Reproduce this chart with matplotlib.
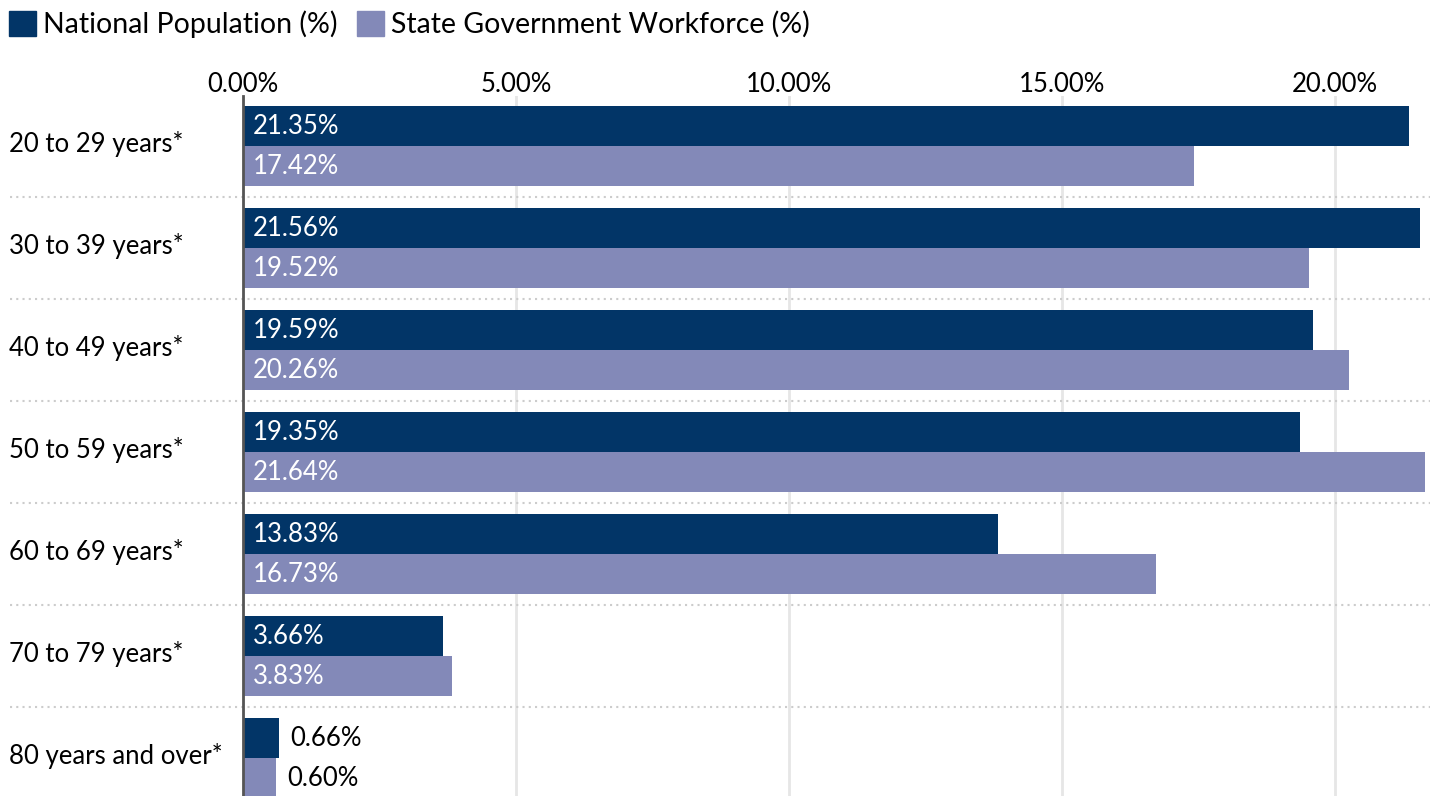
import matplotlib
matplotlib.use('Agg')
from matplotlib import pyplot as plt
from matplotlib.patches import Patch
import matplotlib.transforms as mtrans

plt.rcParams['font.family'] = ['Lato', 'DejaVu Sans']

categories = ['20 to 29 years*', '30 to 39 years*', '40 to 49 years*', '50 to 59 years*',
              '60 to 69 years*', '70 to 79 years*', '80 years and over*']
national = [21.35, 21.56, 19.59, 19.35, 13.83, 3.66, 0.66]
state = [17.42, 19.52, 20.26, 21.64, 16.73, 3.83, 0.60]
series_names = ['National Population (%)', 'State Government Workforce (%)']
ticks = [0, 5, 10, 15, 20]

navy = '#023567'
lavender = '#8389b8'

W, H = 1430, 796
fig = plt.figure(figsize=(W / 100, H / 100), dpi=100)
ax = fig.add_axes([243 / W, 0, (W - 243) / W, (796 - 96) / H])

bh = 40 / 102
pos = range(len(categories))
nat_y = [i - bh / 2 for i in pos]
st_y = [i + bh / 2 for i in pos]
ax.barh(nat_y, national, height=bh, color=navy, zorder=2)
ax.barh(st_y, state, height=bh, color=lavender, zorder=2)

ax.set_xlim(0, (W - 243) / 54.6)
ax.set_ylim(6 + 38 / 102, -50 / 102)

# value labels: inside for big bars, outside for tiny ones
for y, v in list(zip(nat_y, national)) + list(zip(st_y, state)):
    if v > 2:
        ax.annotate(f'{v:.2f}%', (0, y), xytext=(7, 0), textcoords='offset points',
                    va='center', ha='left', color='white', fontsize=18.5)
    else:
        ax.annotate(f'{v:.2f}%', (v, y), xytext=(8, 0), textcoords='offset points',
                    va='center', ha='left', color='black', fontsize=18.5)

# category labels and dotted separators across the whole width
trans = mtrans.blended_transform_factory(fig.transFigure, ax.transData)
for i, c in enumerate(categories):
    ax.text(9 / W, i - 0.02, c, transform=trans, va='center', ha='left', fontsize=18.5)
for i in range(len(categories) - 1):
    ax.plot([10 / W, 1], [i + 0.5, i + 0.5], transform=trans, clip_on=False,
            color='#cccccc', linestyle=(0, (1, 2)), linewidth=1.5, zorder=1)

ax.set_xticks(ticks)
ax.set_xticklabels([f'{t:.2f}%' for t in ticks])
ax.xaxis.tick_top()
ax.tick_params(axis='x', length=0, labelsize=18.5, pad=-1)
ax.set_yticks([])
ax.grid(axis='x', color='#e6e6e6', linewidth=2, zorder=0)
ax.set_axisbelow(True)
for s in ['top', 'right', 'bottom']:
    ax.spines[s].set_visible(False)
ax.spines['left'].set_color('#555555')
ax.spines['left'].set_linewidth(2)
ax.spines['left'].set_zorder(3)

handles = [Patch(color=navy), Patch(color=lavender)]
fig.legend(handles, series_names, loc='upper left', bbox_to_anchor=(-0.003, 1.003), ncol=2,
           frameon=False, fontsize=20.5, handlelength=0.95, handleheight=0.95,
           handletextpad=0.25, columnspacing=0.7, borderaxespad=0.2, borderpad=0.25)

fig.savefig('out.png', dpi=100)
